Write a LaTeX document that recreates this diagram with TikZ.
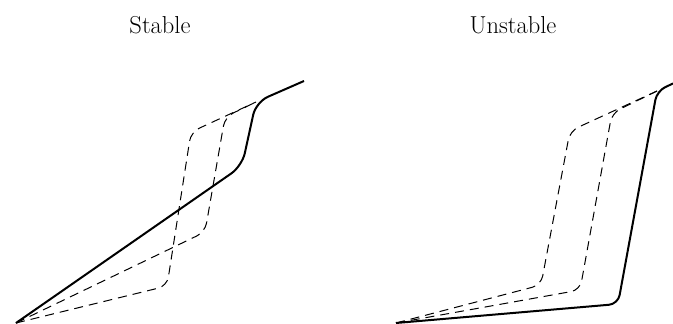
\documentclass[tikz,border=0pt]{standalone}
\begin{document}
\begin{tikzpicture}[x=1pt,y=-1pt,
  curve/.style={line width=2pt, rounded corners=9pt, line join=round},
  dcurve/.style={line width=1pt, dash pattern=on 9pt off 6pt, rounded corners=9pt},
  title/.style={font=\fontsize{24.5}{29}\selectfont, inner sep=0pt}]
\useasboundingbox (0,0) rectangle (673,324);
% titles
\node[title] (tS) at (160,25) {Stable};
\node[title] (tU) at (513,25) {Unstable};
% left panel
\coordinate (O1) at (16,323);
\coordinate (P1) at (256,102);
\coordinate (E1) at (304,81);
\draw[curve, rounded corners=13pt] (O1) -- (242,166) -- (P1) -- (E1);
\draw[dcurve] (O1) -- (167,286) -- (191,132) -- (P1);
\draw[dcurve] (O1) -- (205,232) -- (225,117) -- (P1);
% right panel
\coordinate (O2) at (396,323);
\coordinate (P2) at (657,91);
\coordinate (E2) at (673,83.5);
\draw[curve] (O2) -- (618,304) -- (P2) -- (E2);
\draw[dcurve] (O2) -- (541,285) -- (570,131) -- (P2);
\draw[dcurve] (O2) -- (580,290) -- (612,113) -- (P2);
\end{tikzpicture}
\end{document}
